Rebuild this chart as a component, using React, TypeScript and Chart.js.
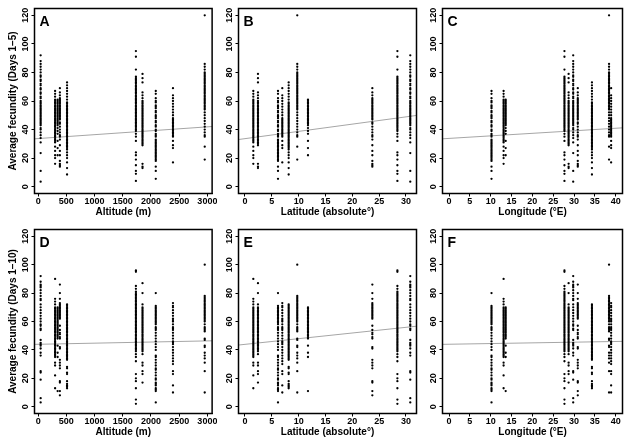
import { useEffect, useRef } from 'react';
import { Chart, registerables } from 'chart.js';
Chart.register(...registerables);

const FONT = '"Liberation Sans", Arial, Helvetica, sans-serif';

// Population locations (same populations in every panel)
const popAltitude = [44, 1733, 2953, 1850, 2085, 512, 385, 300, 2390, 345];
const popLatitude = [30.8, 28.4, 9.74, 2.42, 6.15, 8.14, 23.73, 1.55, 6.95, 11.74];
const popLongitude = [29.8, 27.7, 38.4, 28.7, 10.2, 34.3, 30.9, 13.1, 38.9, 13.6];

// Average fecundity, days 1-5
const days5Pop1 = [92, 88, 86, 84, 82, 80, 78, 77, 75, 74, 72, 71, 69, 68, 66, 65, 63, 62, 60, 59, 58, 57, 56, 55, 54, 53, 52, 51, 50, 49, 48, 47, 46, 45, 44, 43, 41, 40, 38, 36, 34, 31, 23.5, 11, 3.5];
const days5Pop2 = [95, 91, 82, 77, 76, 75, 74, 73, 72, 71, 70, 69, 68, 67, 66, 65, 64, 63, 62, 61, 60, 59, 58, 57, 56, 55, 54, 53, 52, 51, 50, 49, 48, 47, 46, 45, 44, 43, 42, 41, 40, 39, 37, 35, 32, 24, 22, 19, 15, 11, 9, 4];
const days5Pop3 = [120, 86, 84, 82, 80, 79, 78, 77, 76, 75, 74, 73, 72, 71, 70, 69, 68, 67, 66, 65, 64, 63, 62, 61, 60, 59, 58, 57, 56, 55, 54, 52, 50, 48, 46, 44, 42, 40, 38, 36, 35, 28, 19];
const days5Pop4 = [79, 76, 73, 66, 64, 62, 60, 59, 58, 57, 56, 55, 54, 53, 52, 51, 50, 49, 48, 47, 46, 45, 44, 43, 42, 41, 40, 39, 38, 37, 36, 35, 34, 33, 32, 31, 30, 29, 16, 14, 13];
const days5Pop5 = [67, 65, 62, 60, 59, 57, 56, 55, 53, 52, 50, 49, 48, 46, 45, 43, 42, 40, 39, 37, 36, 35, 33, 32, 31, 30, 29, 28, 27, 26, 25, 24, 23, 22, 21, 20, 19, 18, 14, 11, 5.5];
const days5Pop6 = [73, 71, 69, 67, 65, 63, 61, 59, 58, 57, 56, 55, 54, 53, 52, 51, 50, 49, 48, 47, 46, 45, 44, 43, 42, 41, 40, 39, 38, 37, 36, 35, 34, 33, 32, 31, 30, 29, 28, 27, 26, 24, 22, 20, 17, 13, 8.5];
const days5Pop7 = [69, 66, 64, 62, 61, 60, 59, 58, 57, 56, 55, 54, 53, 52, 51, 50, 49, 48, 47, 45, 44, 42, 40, 38, 36, 35, 33, 29, 25, 22, 18, 16, 15, 14];
const days5Pop8 = [67, 65, 63, 61, 60, 59, 58, 57, 56, 55, 54, 53, 52, 51, 50, 49, 48, 47, 46, 45, 44, 43, 42, 41, 40, 39, 38, 37, 36, 35, 34, 33, 32, 31, 28, 25, 22, 20, 16];
const days5Pop9 = [69, 64, 62, 60, 58, 56, 54, 52, 50, 48, 47, 46, 45, 44, 43, 42, 41, 40, 39, 38, 37, 36, 35, 32, 29, 27, 17];
const days5Pop10 = [61, 60, 59, 58, 57, 56, 55, 54, 53, 52, 51, 50, 49, 48, 47, 46, 45, 44, 43, 41, 39, 37, 32, 27, 22];

// Average fecundity, days 1-10
const days10Pop1 = [92, 88, 86, 85, 84, 82, 80, 78, 76, 75, 72, 70, 68, 66, 64, 62, 60, 58, 57, 55, 54, 47, 45, 44, 43, 41, 38, 36, 25, 24, 19, 6, 3];
const days10Pop2 = [96, 95, 85, 83, 81, 80, 79, 78, 77, 76, 75, 74, 73, 72, 71, 70, 69, 68, 67, 66, 65, 64, 63, 62, 61, 60, 59, 58, 57, 56, 55, 54, 53, 52, 51, 50, 49, 48, 47, 46, 45, 44, 43, 42, 41, 40, 39, 37, 35, 32, 23, 20, 18, 13, 5, 2];
const days10Pop3 = [100, 78, 77, 76, 75, 74, 73, 72, 71, 70, 69, 68, 67, 66, 65, 64, 63, 62, 61, 60, 58, 56, 55, 54, 53, 48, 47, 43, 42, 38, 36, 34, 31, 25, 10];
const days10Pop4 = [87, 80, 72, 70, 69, 68, 67, 66, 65, 64, 63, 62, 61, 60, 59, 58, 57, 56, 55, 54, 53, 52, 51, 50, 49, 48, 47, 46, 45, 44, 43, 42, 41, 40, 39, 37, 31, 29, 25, 23, 17];
const days10Pop5 = [80, 71, 70, 69, 68, 67, 66, 65, 64, 63, 62, 61, 60, 59, 58, 56, 55, 54, 52, 50, 48, 46, 44, 42, 40, 36, 35, 33, 31, 29, 27, 26, 24, 22, 20, 19, 17, 16, 15, 13, 12, 11, 3];
const days10Pop6 = [72, 71, 70, 69, 68, 67, 66, 65, 64, 63, 62, 61, 60, 59, 58, 57, 56, 55, 54, 53, 52, 51, 50, 49, 48, 47, 46, 45, 44, 43, 42, 41, 40, 39, 38, 37, 36, 35, 34, 33, 28, 27, 24, 23, 18, 16, 15, 14, 13];
const days10Pop7 = [86, 80, 76, 73, 72, 71, 70, 69, 68, 67, 66, 65, 64, 63, 62, 57, 54, 52, 51, 49, 48, 42, 41, 33, 31, 29, 27, 18, 17, 11, 8];
const days10Pop8 = [90, 76, 74, 72, 70, 69, 68, 67, 66, 65, 64, 63, 62, 61, 60, 59, 58, 57, 56, 55, 54, 53, 52, 51, 50, 49, 48, 47, 46, 45, 44, 43, 42, 41, 40, 39, 38, 37, 36, 35, 31, 29, 22, 13];
const days10Pop9 = [73, 71, 70, 68, 66, 64, 62, 61, 60, 58, 56, 55, 54, 52, 50, 48, 46, 45, 44, 42, 40, 38, 36, 34, 32, 30, 25, 23, 15, 10];
const days10Pop10 = [70, 69, 68, 67, 66, 65, 64, 63, 62, 61, 60, 59, 58, 57, 56, 55, 54, 53, 52, 51, 50, 49, 48, 43, 38, 35, 11];

const days5 = [days5Pop1, days5Pop2, days5Pop3, days5Pop4, days5Pop5, days5Pop6, days5Pop7, days5Pop8, days5Pop9, days5Pop10];
const days10 = [days10Pop1, days10Pop2, days10Pop3, days10Pop4, days10Pop5, days10Pop6, days10Pop7, days10Pop8, days10Pop9, days10Pop10];

// Tick labels
const altitudeTicks = [0, 500, 1000, 1500, 2000, 2500, 3000];
const latitudeTicks = [0, 5, 10, 15, 20, 25, 30];
const longitudeTicks = [0, 5, 10, 15, 20, 25, 30, 35, 40];
const fecundityTicks = [0, 20, 40, 60, 80, 100, 120];

// Regression lines (A..F)
const fitIntercept = [33.68, 33.63, 33.79, 43.95, 43.9, 43.98];
const fitSlope = [0.002737, 0.5084, 0.178, 0.000796, 0.4, 0.0486];

const panelLetters = ['A', 'B', 'C', 'D', 'E', 'F'];
const xTitles = ['Altitude (m)', 'Latitude (absolute°)', 'Longitude (°E)'];
const yTitles = ['Average fecundity (Days 1–5)', 'Average fecundity (Days 1–10)'];

const xRanges = [
  [-65, 3084],
  [-1.21, 31.96],
  [-1.56, 41.63],
];
const yRange = [-4.8, 124.8];

const cols = [
  { left: 0, w: 217, yw: 34.5, padR: 3.5 },
  { left: 217, w: 204, yw: 21.5, padR: 4.5 },
  { left: 421, w: 210, yw: 21.5, padR: 8.5 },
];
const rows = [
  { top: 0, h: 223, padT: 8.5, padB: 0 },
  { top: 223, h: 224, padT: 6.5, padB: 4 },
];

const framePlugin = {
  id: 'frame',
  afterDraw(chart: any, _args: any, opts: any) {
    const { ctx, chartArea: a } = chart;
    ctx.save();
    ctx.strokeStyle = '#000';
    ctx.lineWidth = 1.5;
    ctx.strokeRect(a.left, a.top, a.right - a.left, a.bottom - a.top);
    ctx.fillStyle = '#000';
    ctx.font = `bold 14px ${FONT}`;
    ctx.textBaseline = 'alphabetic';
    ctx.textAlign = 'left';
    ctx.fillText(opts.letter, a.left + 5, a.top + 17.5);
    ctx.restore();
  },
};

const plainLabel = (v: any) => String(v);

function Panel({ row, col }: { row: number; col: number }) {
  const ref = useRef<HTMLCanvasElement>(null);
  const c = cols[col];
  const r = rows[row];
  useEffect(() => {
    const idx = row * 3 + col;
    const xs = [popAltitude, popLatitude, popLongitude][col];
    const vals = row === 0 ? days5 : days10;
    const [xMin, xMax] = xRanges[col];
    const ticks = [altitudeTicks, latitudeTicks, longitudeTicks][col];
    const points = vals.flatMap((arr, i) => arr.map((v) => ({ x: xs[i], y: v })));
    const line = [xMin, xMax].map((x) => ({ x, y: fitIntercept[idx] + fitSlope[idx] * x }));
    const chart = new Chart(ref.current!, {
      type: 'scatter',
      data: {
        datasets: [
          {
            type: 'line',
            data: line,
            borderColor: '#a6a6a6',
            borderWidth: 1,
            pointRadius: 0,
            fill: false,
            order: 2,
          } as any,
          {
            type: 'scatter',
            data: points,
            pointRadius: 1.15,
            pointBackgroundColor: '#000',
            pointBorderWidth: 0,
            pointBorderColor: '#000',
            order: 1,
          } as any,
        ],
      },
      options: {
        animation: false,
        responsive: false,
        devicePixelRatio: 1,
        layout: { padding: { left: 0, right: c.padR, top: r.padT, bottom: r.padB } },
        plugins: {
          legend: { display: false },
          tooltip: { enabled: false },
          frame: { letter: panelLetters[idx] },
        } as any,
        scales: {
          x: {
            type: 'linear',
            min: xMin,
            max: xMax,
            afterFit: (s: any) => {
              s.height = 29.5;
            },
            afterBuildTicks: (s: any) => {
              s.ticks = ticks.map((v) => ({ value: v }));
            },
            ticks: {
              autoSkip: false,
              maxRotation: 0,
              minRotation: 0,
              padding: -0.5,
              color: '#000',
              callback: plainLabel,
              font: { family: FONT, size: 9, weight: 'bold' },
            },
            grid: { display: true, drawOnChartArea: false, drawTicks: true, tickLength: 3, color: '#000', tickWidth: 1 },
            border: { display: true, color: '#000', width: 1 },
            title: {
              display: true,
              text: xTitles[col],
              color: '#000',
              font: { family: FONT, size: 10, weight: 'bold' },
              padding: { top: 0, bottom: 5 },
            },
          },
          y: {
            type: 'linear',
            min: yRange[0],
            max: yRange[1],
            afterFit: (s: any) => {
              s.width = c.yw;
            },
            afterBuildTicks: (s: any) => {
              s.ticks = fecundityTicks.map((v) => ({ value: v }));
            },
            ticks: {
              autoSkip: false,
              minRotation: 90,
              maxRotation: 90,
              crossAlign: 'center',
              padding: -1.5,
              color: '#000',
              callback: plainLabel,
              font: { family: FONT, size: 9, weight: 'bold' },
            },
            grid: { display: true, drawOnChartArea: false, drawTicks: true, tickLength: 3, color: '#000', tickWidth: 1 },
            border: { display: true, color: '#000', width: 1 },
            title: {
              display: col === 0,
              text: yTitles[row],
              color: '#000',
              font: { family: FONT, size: 10, weight: 'bold' },
              padding: { top: 7.5, bottom: 0 },
            },
          },
        },
      } as any,
      plugins: [framePlugin],
    });
    return () => chart.destroy();
  }, [row, col]);
  return (
    <canvas
      ref={ref}
      width={c.w}
      height={r.h}
      style={{ position: 'absolute', left: c.left, top: r.top, width: c.w, height: r.h }}
    />
  );
}

export default function App() {
  return (
    <div style={{ position: 'absolute', left: 0, top: 0, width: 631, height: 447, background: '#fff' }}>
      {[0, 1].map((row) => [0, 1, 2].map((col) => <Panel key={`${row}-${col}`} row={row} col={col} />))}
    </div>
  );
}
